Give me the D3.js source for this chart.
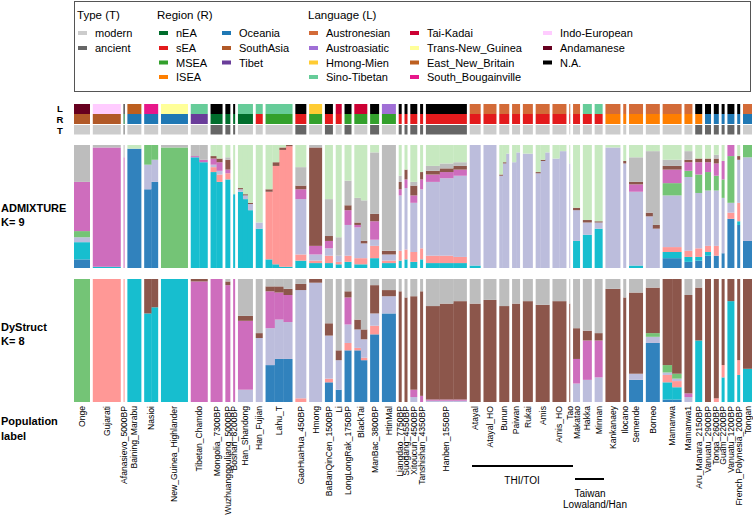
<!DOCTYPE html>
<html>
<head>
<meta charset="utf-8">
<script src="https://cdn.jsdelivr.net/npm/d3@7"></script>
<style>
  body { margin: 0; background: #fff; }
  text { font-family: "Liberation Sans", Arial, Helvetica, sans-serif; fill: #000; }
</style>
</head>
<body>
<svg id="chart" width="753" height="526"></svg>
<script>
// ---- data ----
var populations = ["Onge","Gujarati","Afanasievo_5000BP","Baining_Marabu","Nasioi","New_Guinea_Highlander",
  "Tibetan_Chamdo","Mongolia_7300BP","Wuzhuanggouliang_5000BP","Boshan_8200BP","Han_Shandong","Han_Fujian",
  "Lahu_T","GaoHuaHua_450BP","Hmong","BaBanQinCen_1500BP","Li","LongLongRak_1750BP","BlackTai","ManBac_3800BP",
  "HtinMal","Liangdao_7750BP","Suogang_4550BP","Xitoucun_4500BP","Tanshishan_4350BP","Hanben_1550BP",
  "Atayal","Atayal_HO","Bunun","Paiwan","Rukai","Amis","Amis_HO","Tao","Makatao","Hakka","Minnan",
  "Kankanaey","Ilocano","Semende","Borneo","Mamanwa","Mamanwa1","Aru_Manara_2150BP","Vanuatu_2900BP",
  "Tonga_2600BP","Guam_2200BP","Vanuatu_1200BP","French_Polynesia_200BP","Tongan"];

var sampleSizes = [16,28,1,14,14,27, 17,12,5,2,15,7, 27,11,13,8,6,7,13,9, 14,3,3,7,3,41,
  11,13,10,8,10,14,14,1,7,9,8, 15,3,14,14,19,8,7,6, 5,3,7,3,9];

var popType = ["modern","modern","ancient","modern","modern","modern",
  "modern","ancient","ancient","ancient","modern","modern",
  "modern","ancient","modern","ancient","modern","ancient","modern","ancient",
  "modern","ancient","ancient","ancient","ancient","ancient",
  "modern","modern","modern","modern","modern","modern","modern","modern","modern","modern","modern",
  "modern","modern","modern","modern","modern","modern","ancient","ancient",
  "ancient","ancient","ancient","ancient","modern"];

var popRegion = ["SouthAsia","SouthAsia","nEA","Oceania","Oceania","Oceania",
  "Tibet","nEA","nEA","nEA","nEA","sEA",
  "MSEA","sEA","MSEA","sEA","sEA","MSEA","MSEA","MSEA",
  "MSEA","sEA","sEA","sEA","sEA","sEA",
  "sEA","sEA","sEA","sEA","sEA","sEA","sEA","sEA","sEA","sEA","sEA",
  "ISEA","ISEA","ISEA","ISEA","ISEA","ISEA","ISEA","Oceania",
  "Oceania","Oceania","Oceania","Oceania","Oceania"];

var popLanguage = ["Andamanese","Indo-European","N.A.","East_New_Britain","South_Bougainville","Trans-New_Guinea",
  "Sino-Tibetan","N.A.","N.A.","N.A.","Sino-Tibetan","Sino-Tibetan",
  "Sino-Tibetan","N.A.","Hmong-Mien","N.A.","Tai-Kadai","N.A.","Tai-Kadai","N.A.",
  "Austroasiatic","N.A.","N.A.","N.A.","N.A.","N.A.",
  "Austronesian","Austronesian","Austronesian","Austronesian","Austronesian","Austronesian","Austronesian",
  "Austronesian","Austronesian","Sino-Tibetan","Sino-Tibetan",
  "Austronesian","Austronesian","Austronesian","Austronesian","Austronesian","Austronesian","N.A.","N.A.",
  "N.A.","N.A.","N.A.","N.A.","Austronesian"];

// ancestry components, stacked bottom -> top
var admixKeys = ["blue","cyan","salmon","lavender","green","orchid","brown","gray","lgreen"];
var dystructKeys = ["blue","cyan","salmon","lavender","green","orchid","brown","gray"];

// ADMIXTURE K=9 proportions per population (order of admixKeys);
// populations with a visible cline get several read-off sub-columns
var admixtureK9 = [
  [.07,.14,0,.04,.05,.40,0,.30,0],
  [0,.01,0,0,0,.97,0,.02,0],
  [0,0,0,0,0,.90,0,.10,0],
  [.97,0,0,0,0,0,0,0,.03],
  [[.64,0,0,.20,.16,0,0,0,0],[.70,0,0,.18,.12,0,0,0,0]],
  [0,0,0,0,.98,0,0,.02,0],
  [[0,.90,0,0,0,.01,0,.09,0],[0,.86,0,0,0,.02,0,.12,0]],
  [[0,.78,.04,.02,0,.05,.02,0,.09],[0,.70,.06,.03,0,.07,.03,0,.11]],
  [0,.72,.05,0,0,.03,.08,.02,.10],
  [0,.60,0,0,0,0,0,0,.40],
  [[0,.62,0,.02,0,0,.01,0,.35],[0,.56,0,.03,0,0,.01,0,.40],[0,.47,0,.05,0,0,.01,0,.47]],
  [0,.32,0,.05,0,0,0,0,.63],
  [[0,.07,.55,0,0,0,.02,0,.36],[0,.03,.80,0,0,0,.03,0,.14],[0,.01,.95,0,0,0,.02,0,.02],[0,.01,.98,0,0,0,.01,0,0]],
  [0,.06,.05,.45,0,.08,.03,.15,.18],
  [0,.04,.02,.05,0,.07,.80,.02,0],
  [0,.04,.06,.06,0,.06,.04,.30,.44],
  [0,.03,.02,.05,0,0,0,.15,.75],
  [0,.05,.05,.25,0,.12,.04,.20,.29],
  [[0,.03,.05,.25,0,.02,.02,.20,.43],[0,.03,.05,.12,0,0,.02,.33,.45]],
  [0,.08,.10,.05,0,.15,.06,.50,.06],
  [0,.04,.02,.05,0,0,.03,.86,0],
  [0,.06,.08,.45,0,.05,.06,.05,.25],
  [0,.07,.08,.50,0,.07,.08,0,.20],
  [0,.05,.08,.40,0,.06,.08,.03,.30],
  [0,.07,.09,.48,0,.08,.06,0,.22],
  [[0,.04,.06,.60,0,.06,.03,.04,.17],[0,.04,.06,.63,0,.05,.03,.04,.15],[0,.04,.05,.66,0,.05,.03,.03,.14]],
  [0,.02,0,.98,0,0,0,0,0],
  [0,0,0,1,0,0,0,0,0],
  [[0,0,0,.75,0,0,.01,0,.24],[0,0,0,.85,0,0,.01,0,.14],[0,0,0,.93,0,0,0,0,.07]],
  [[0,0,0,.86,0,0,0,0,.14],[0,0,0,.94,0,0,0,0,.06]],
  [0,0,0,.93,0,0,0,0,.07],
  [[0,0,0,.77,0,0,.01,0,.22],[0,0,0,.87,0,0,.01,0,.12],[0,0,0,.94,0,0,0,0,.06]],
  [[0,0,0,.89,0,0,0,0,.11],[0,0,0,.95,0,0,0,0,.05]],
  [0,0,0,.85,0,0,0,0,.15],
  [0,.22,0,.25,0,0,.02,0,.51],
  [0,.27,0,.10,0,0,.02,0,.61],
  [0,.32,0,.05,0,0,.01,0,.62],
  [0,0,0,.98,0,0,0,0,.02],
  [0,0,0,.85,0,0,.02,0,.13],
  [0,.02,0,.60,0,.06,.02,.20,.10],
  [[0,0,0,.42,0,0,.03,.50,.05],[0,0,0,.32,0,0,.03,.60,.05]],
  [.08,.05,.04,.42,.10,.11,.03,.05,.12],
  [.05,.04,.05,.60,.05,.07,.02,.07,.05],
  [.06,.03,.07,.45,.15,.10,.03,0,.11],
  [.10,.03,.05,.45,.15,.08,.03,0,.11],
  [.10,0,.08,.45,.12,.10,.04,.03,.08],
  [.12,0,0,.45,.15,.15,0,0,.13],
  [.40,0,.05,.08,.38,.09,0,0,0],
  [.35,.03,.15,.35,0,0,.03,0,.09],
  [.22,0,0,.68,.10,0,0,0,0]
];

// DyStruct K=8 proportions per population (order of dystructKeys)
var dystructK8 = [
  [0,0,0,0,1,0,0,0],
  [0,0,1,0,0,0,0,0],
  [0,0,1,0,0,0,0,0],
  [0,1,0,0,0,0,0,0],
  [[0,.72,0,0,0,0,.28,0],[0,.77,0,0,0,0,.23,0]],
  [0,1,0,0,0,0,0,0],
  [0,0,0,0,0,.98,.02,0],
  [0,0,0,0,0,1,0,0],
  [0,0,0,0,0,.95,.03,.02],
  [0,0,0,0,0,1,0,0],
  [0,0,0,.10,0,.56,.04,.30],
  [0,0,0,.52,0,0,.04,.44],
  [[.30,0,0,.30,0,.30,.04,.06],[.35,0,0,.32,0,.22,.05,.06],[.35,0,0,.30,0,.22,.05,.08]],
  [0,0,.03,.88,0,0,.05,.04],
  [0,0,0,.97,0,0,.03,0],
  [.16,0,.03,.35,0,0,.10,.36],
  [.10,0,0,.24,0,0,.08,.58],
  [.42,0,.06,.15,0,.22,.05,.10],
  [[.42,0,.02,.15,0,0,.08,.33],[.34,0,.02,.15,0,0,.08,.41]],
  [.55,0,.07,.10,0,0,.23,.05],
  [.72,0,0,.14,0,0,.05,.09],
  [0,0,0,0,0,0,.90,.10],
  [0,0,0,0,0,0,.85,.15],
  [0,0,0,.04,0,.06,.76,.14],
  [0,0,0,0,0,.05,.85,.10],
  [[0,0,0,.01,0,.01,.76,.22],[0,0,0,.01,0,.01,.78,.20],[0,0,0,.01,0,.01,.80,.18]],
  [0,0,0,0,0,0,.80,.20],
  [0,0,0,0,0,0,.83,.17],
  [0,0,0,0,0,0,.78,.22],
  [0,0,0,0,0,0,.80,.20],
  [0,0,0,0,0,0,.82,.18],
  [0,0,0,0,0,0,.79,.21],
  [0,0,0,0,0,0,.82,.18],
  [0,0,0,0,0,0,.80,.20],
  [0,0,0,.15,0,.20,.25,.40],
  [0,0,0,.18,0,.32,.08,.42],
  [0,0,0,.20,0,.30,.06,.44],
  [0,0,0,0,0,0,.92,.08],
  [0,0,0,0,0,0,.85,.15],
  [.18,0,0,.05,0,0,.66,.11],
  [.48,0,0,.05,.03,0,.37,.07],
  [[.02,.14,.06,.02,.06,0,.70,0],[.02,.10,.05,.02,.04,0,.77,0]],
  [0,0,0,.04,0,.03,.80,.13],
  [0,.50,0,0,0,0,.43,.07],
  [0,0,0,0,0,0,1,0],
  [0,0,.03,0,0,0,.97,0],
  [0,.20,.10,0,0,0,.70,0],
  [0,.82,0,0,0,0,.18,0],
  [0,.22,.12,0,0,0,.66,0],
  [0,.27,0,0,0,0,.73,0]
];

var ancestryColors = {blue:"#3182bd", cyan:"#17becf", salmon:"#ff9896", lavender:"#bcbddc", green:"#74c476",
  orchid:"#ce6dbd", brown:"#8c564b", gray:"#bdbdbd", lgreen:"#c7e9c0"};

var typeNames = ["modern","ancient"];
var typeColors = ["#cccccc","#666666"];
var regionNames = ["nEA","sEA","MSEA","ISEA","Oceania","SouthAsia","Tibet"];
var regionColors = ["#006d2c","#e31a1c","#33a02c","#ff7f00","#1f78b4","#b15928","#6a3d9a"];
var languageNames = ["Austronesian","Austroasiatic","Hmong-Mien","Sino-Tibetan","Tai-Kadai","Trans-New_Guinea",
  "East_New_Britain","South_Bougainville","Indo-European","Andamanese","N.A."];
var languageColors = ["#d36b38","#a06fd6","#ffcc33","#66cc99","#cc0033","#ffff99",
  "#bd5f1f","#e7178a","#ffccff","#67001f","#000000"];

// ---- scales ----
var svg = d3.select("#chart");
var gapUnits = 2.8;
var starts = [];
var acc = 0;
sampleSizes.forEach(function(n, i) { starts.push(acc); acc += n + gapUnits; });
var totalUnits = acc - gapUnits;

var x = d3.scaleLinear().domain([0, totalUnits]).range([74, 752]);
var yAdm = d3.scaleLinear().domain([0, 1]).range([268, 145]);
var yDys = d3.scaleLinear().domain([0, 1]).range([402, 279]);

var typeColor = d3.scaleOrdinal(typeNames, typeColors);
var regionColor = d3.scaleOrdinal(regionNames, regionColors);
var languageColor = d3.scaleOrdinal(languageNames, languageColors);

function blockX(i) { return x(starts[i]); }
function blockW(i) { return x(starts[i] + sampleSizes[i]) - x(starts[i]); }

// ---- legend ----
function draw_legend() {
  var lg = svg.append("g").attr("id", "legend");
  lg.append("rect").attr("x", 74.5).attr("y", 1.5).attr("width", 676).attr("height", 90)
    .attr("fill", "none").attr("stroke", "#555").attr("stroke-width", 1);

  var rowY = [33, 48, 62.5, 77];
  function item(sx, label, color, row) {
    lg.append("rect").attr("x", sx).attr("y", rowY[row] - 2).attr("width", 9).attr("height", 4).attr("fill", color);
    lg.append("text").attr("x", sx + 17).attr("y", rowY[row]).attr("dominant-baseline", "central")
      .attr("font-size", "11px").text(label);
  }
  function title(tx, label) {
    lg.append("text").attr("x", tx).attr("y", 15).attr("dominant-baseline", "central")
      .attr("font-size", "11.5px").text(label);
  }
  title(77, "Type (T)");
  typeNames.forEach(function(t, i) { item(78, t, typeColors[i], i); });

  title(157, "Region (R)");
  regionNames.forEach(function(r, i) {
    if (i < 4) item(159, r, regionColors[i], i);
    else item(222, r, regionColors[i], i - 4);
  });

  title(308, "Language (L)");
  languageNames.forEach(function(l, i) {
    var col = Math.floor(i / 4), row = i % 4;
    item([309, 410, 543][col], l, languageColors[i], row);
  });
}

// ---- annotation rows (L / R / T) ----
function draw_annotations() {
  var ag = svg.append("g").attr("id", "annotations");
  var rows = [
    {key: "L", vals: popLanguage, color: languageColor, y: 104, h: 10, ty: 108},
    {key: "R", vals: popRegion, color: regionColor, y: 114, h: 10, ty: 119},
    {key: "T", vals: popType, color: typeColor, y: 125, h: 9.5, ty: 130}
  ];
  rows.forEach(function(r) {
    ag.selectAll("rect.ann-" + r.key).data(populations).enter().append("rect")
      .attr("class", "ann-" + r.key)
      .attr("x", function(d, i) { return blockX(i); })
      .attr("width", function(d, i) { return blockW(i); })
      .attr("y", r.y).attr("height", r.h)
      .attr("fill", function(d, i) { return r.color(r.vals[i]); });
    ag.append("text").attr("x", 60).attr("y", r.ty).attr("text-anchor", "middle")
      .attr("dominant-baseline", "central").attr("font-size", "9.5px").attr("font-weight", "bold").text(r.key);
  });
}

// ---- stacked ancestry panels ----
function draw_panel(id, props, keys, y) {
  // expand each population into its read-off sub-columns
  var cols = [];
  props.forEach(function(p, i) {
    var subs = Array.isArray(p[0]) ? p : [p];
    subs.forEach(function(s, j) {
      var o = {idx: i, sub: j, nsub: subs.length};
      keys.forEach(function(k, m) { o[k] = s[m]; });
      cols.push(o);
    });
  });
  var series = d3.stack().keys(keys).offset(d3.stackOffsetExpand)(cols);
  function colX(d) { return blockX(d.idx) + blockW(d.idx) * d.sub / d.nsub; }
  function colW(d) { return blockW(d.idx) / d.nsub + (d.sub < d.nsub - 1 ? 0.3 : 0); }
  var g = svg.append("g").attr("id", id);
  g.selectAll("g.layer").data(series).enter().append("g")
    .attr("class", "layer")
    .attr("fill", function(s) { return ancestryColors[s.key]; })
    .selectAll("rect").data(function(s) { return s; }).enter().append("rect")
    .attr("x", function(d) { return colX(d.data); })
    .attr("width", function(d) { return colW(d.data); })
    .attr("y", function(d) { return y(d[1]); })
    .attr("height", function(d) { return Math.max(0, y(d[0]) - y(d[1])); });
}

function draw_side_labels() {
  var sg = svg.append("g").attr("id", "side-labels").attr("font-weight", "bold").attr("font-size", "11px");
  [["ADMIXTURE", 208], ["K= 9", 222], ["DyStruct", 327], ["K= 8", 341], ["Population", 421], ["label", 436]]
    .forEach(function(t) {
      sg.append("text").attr("x", 1).attr("y", t[1]).attr("dominant-baseline", "central").text(t[0]);
    });
}

function draw_pop_labels() {
  var pg = svg.append("g").attr("id", "pop-labels");
  pg.selectAll("text").data(populations).enter().append("text")
    .attr("transform", function(d, i) {
      return "translate(" + (blockX(i) + blockW(i) / 2) + ",406) rotate(-90)";
    })
    .attr("text-anchor", "end")
    .attr("dominant-baseline", "central")
    .attr("font-size", "8.6px")
    .text(function(d) { return d; });
}

function draw_groups() {
  var gg = svg.append("g").attr("id", "groups");
  gg.append("line").attr("x1", 472).attr("x2", 573).attr("y1", 466).attr("y2", 466)
    .attr("stroke", "#000").attr("stroke-width", 2);
  gg.append("text").attr("x", 522).attr("y", 480).attr("text-anchor", "middle")
    .attr("dominant-baseline", "central").attr("font-size", "10px").text("THI/TOI");
  gg.append("line").attr("x1", 575).attr("x2", 604).attr("y1", 479).attr("y2", 479)
    .attr("stroke", "#000").attr("stroke-width", 2);
  gg.append("text").attr("x", 590).attr("y", 493).attr("text-anchor", "middle")
    .attr("dominant-baseline", "central").attr("font-size", "10px").text("Taiwan");
  gg.append("text").attr("x", 595).attr("y", 504).attr("text-anchor", "middle")
    .attr("dominant-baseline", "central").attr("font-size", "10px").text("Lowaland/Han");
}

draw_legend();
draw_annotations();
draw_panel("admixture", admixtureK9, admixKeys, yAdm);
draw_panel("dystruct", dystructK8, dystructKeys, yDys);
draw_side_labels();
draw_pop_labels();
draw_groups();
</script>
</body>
</html>
